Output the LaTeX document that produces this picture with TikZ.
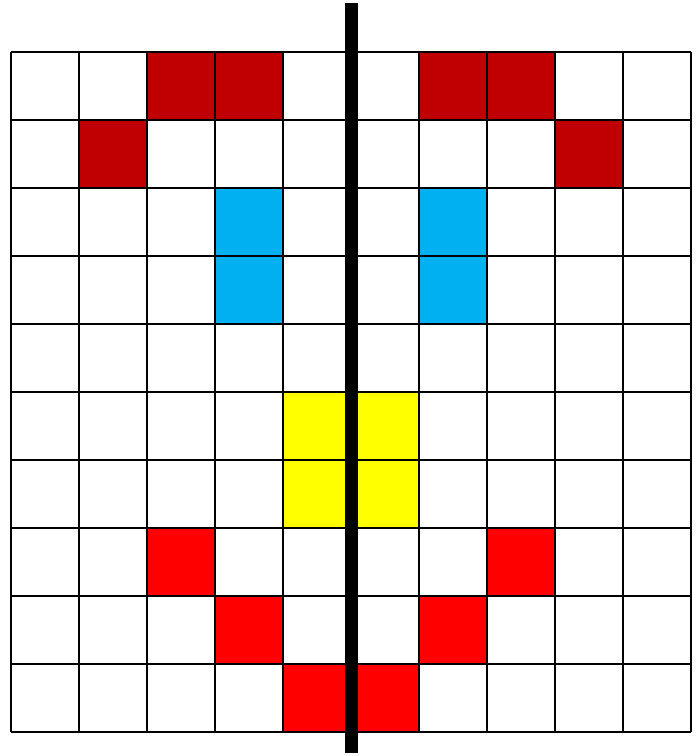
\documentclass[tikz,border=0pt]{standalone}
\usepackage{xcolor}
\usepackage{tikz}
\definecolor{darkred}{HTML}{C00000}
\definecolor{skyblue}{HTML}{00B0F0}
\definecolor{lemon}{HTML}{FFFF00}
\definecolor{brightred}{HTML}{FF0000}

\begin{document}
\begin{tikzpicture}[x=1pt, y=-1pt,
  cellfill/.style={fill=#1},
  gridline/.style={line width=2pt, black},
  mirror/.style={line width=13pt, black}]
\useasboundingbox (0,0) rectangle (700,756);
% coloured cells: {column/row/colour}
\foreach \c/\r/\col in {3/1/darkred, 4/1/darkred, 7/1/darkred, 8/1/darkred,
                        2/2/darkred, 9/2/darkred,
                        4/3/skyblue, 7/3/skyblue, 4/4/skyblue, 7/4/skyblue,
                        5/6/lemon, 6/6/lemon, 5/7/lemon, 6/7/lemon,
                        3/8/brightred, 8/8/brightred, 4/9/brightred,
                        7/9/brightred, 5/10/brightred, 6/10/brightred}
  \fill[cellfill=\col] ({11+68*(\c-1)},{52+68*(\r-1)}) rectangle +(68,68);
% grid
\foreach \i in {0,...,10} {
  \draw[gridline] ({11+68*\i},52) -- ({11+68*\i},732);
  \draw[gridline] (11,{52+68*\i}) -- (691,{52+68*\i});
}
% axis of symmetry
\coordinate (top) at (351.5,3);
\coordinate (bottom) at (351.5,753);
\draw[mirror] (top) -- (bottom);
\end{tikzpicture}
\end{document}
